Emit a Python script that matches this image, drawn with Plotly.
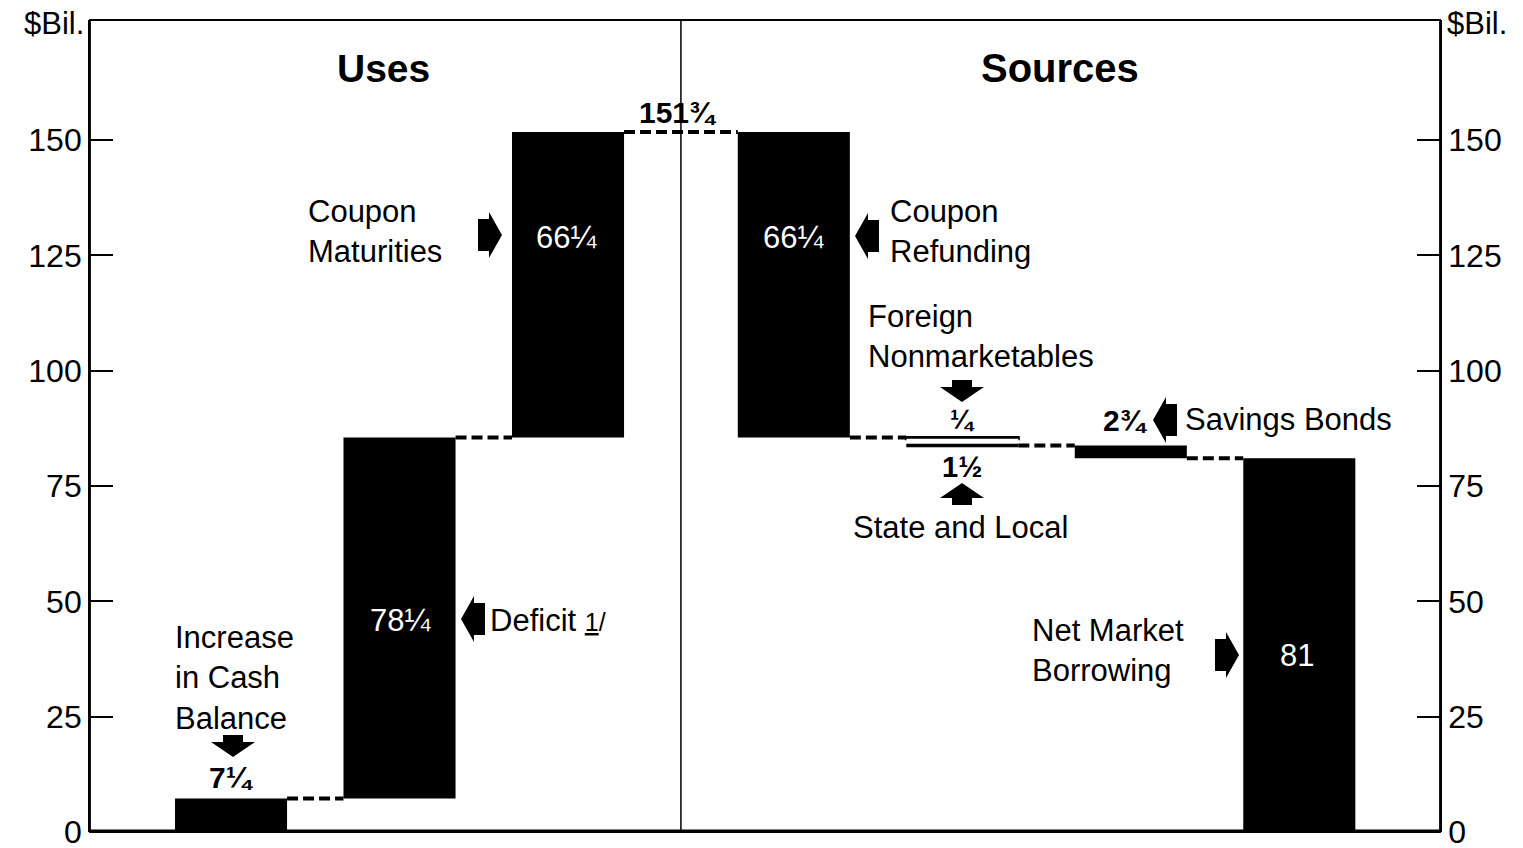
import plotly.graph_objects as go

# ---------------- data ----------------
uses_labels = ["Increase in Cash Balance", "Deficit 1/", "Coupon Maturities"]
uses_values = [7.25, 78.25, 66.25]
uses_value_text = ["7¼", "78¼", "66¼"]

sources_labels = ["Coupon Refunding", "Foreign Nonmarketables", "State and Local",
                  "Savings Bonds", "Net Market Borrowing"]
sources_values = [66.25, 0.25, 1.5, 2.75, 81]
sources_value_text = ["66¼", "¼", "1½", "2¾", "81"]
sources_slots = [0, 1, 1, 2, 3]

total_text = "151¾"
y_ticks = [0, 25, 50, 75, 100, 125, 150]
panel_titles = ["Uses", "Sources"]
unit_label = "$Bil."

# ---------------- layout constants ----------------
PAGE_OFF = 8            # default body margin of the html page
W, H = 1515, 840
ML, MR, MT, MB = 82, 83, 12, 16
Y_MAX = 176.0
X_RANGE = [-0.837, 7.175]
SRC_OFFSET = 3.34
BAR_W = 0.665
FONT = "Liberation Sans, Arial, Helvetica, sans-serif"


def px2x(px):
    # px given in screen pixels
    return X_RANGE[0] + (px - PAGE_OFF - ML) / (W - ML - MR) * (X_RANGE[1] - X_RANGE[0])


def py2y(py):
    return (H - MB - (py - PAGE_OFF)) / (H - MT - MB) * Y_MAX


# cumulative positions
uses_x = list(range(len(uses_values)))
uses_base = []
acc = 0.0
for v in uses_values:
    uses_base.append(acc)
    acc += v
total = acc

src_x = [SRC_OFFSET + s for s in sources_slots]
src_base = []
top = total
for v in sources_values:
    top -= v
    src_base.append(top)

fig = go.Figure()

# uses bars
fig.add_trace(go.Bar(x=uses_x, y=uses_values, base=uses_base, width=BAR_W,
                     marker=dict(color="black", line=dict(width=0)),
                     hovertext=uses_labels, showlegend=False))

# sources solid bars (all except the nonmarketable pair)
solid = [0, 3, 4]
fig.add_trace(go.Bar(x=[src_x[i] for i in solid], y=[sources_values[i] for i in solid],
                     base=[src_base[i] for i in solid], width=BAR_W,
                     marker=dict(color="black", line=dict(width=0)),
                     hovertext=[sources_labels[i] for i in solid], showlegend=False))
# foreign nonmarketables: thin bar
fig.add_trace(go.Bar(x=[src_x[1]], y=[sources_values[1]], base=[src_base[1]], width=BAR_W,
                     marker=dict(color="black", line=dict(color="black", width=3)),
                     hovertext=[sources_labels[1]], showlegend=False))
# state and local: open bar, drawn by its lower edge
fig.add_trace(go.Bar(x=[src_x[2]], y=[sources_values[2]], base=[src_base[2]], width=BAR_W,
                     marker=dict(color="white", line=dict(width=0)),
                     hovertext=[sources_labels[2]], showlegend=False))
fig.add_trace(go.Scatter(x=[src_x[2] - BAR_W / 2, src_x[2] + BAR_W / 2],
                         y=[src_base[2], src_base[2]], mode="lines",
                         line=dict(color="black", width=3.5), showlegend=False,
                         hoverinfo="skip"))

# connectors (dashed)
cx, cy = [], []
for i in range(len(uses_x) - 1):
    lvl = uses_base[i] + uses_values[i]
    cx += [uses_x[i] + BAR_W / 2, uses_x[i + 1] - BAR_W / 2, None]
    cy += [lvl, lvl, None]
cx += [uses_x[-1] + BAR_W / 2, src_x[0] - BAR_W / 2, None]
cy += [total, total, None]
for j in range(len(src_x) - 1):
    if sources_slots[j + 1] != sources_slots[j]:
        lvl = src_base[j]
        cx += [src_x[j] + BAR_W / 2, src_x[j + 1] - BAR_W / 2, None]
        cy += [lvl, lvl, None]
fig.add_trace(go.Scatter(x=cx, y=cy, mode="lines",
                         line=dict(color="black", width=4, dash="11px,5px"),
                         showlegend=False, hoverinfo="skip"))

# right axis dummy trace
fig.add_trace(go.Scatter(x=[None], y=[None], yaxis="y2", showlegend=False))

shapes = []
# divider
div_x = (uses_x[-1] + src_x[0]) / 2
shapes.append(dict(type="line", xref="x", yref="paper", x0=div_x, x1=div_x, y0=0, y1=1,
                   line=dict(color="black", width=1.5)))
# frame
shapes.append(dict(type="rect", xref="paper", yref="paper", x0=0, x1=1, y0=0, y1=1,
                   line=dict(color="black", width=1.8)))
# thick baseline
shapes.append(dict(type="line", xref="paper", yref="y", x0=0, x1=1, y0=0, y1=0,
                   line=dict(color="black", width=5)))

# block arrows
ARROW_PTS = {
    "right": [(-12, 16), (-1, 16), (-1, 23), (12, 0), (-1, -23), (-1, -16), (-12, -16)],
    "left": [(12, 16), (1, 16), (1, 23), (-12, 0), (1, -23), (1, -16), (12, -16)],
    "down": [(-10, 11), (10, 11), (10, 4), (22, 4), (0, -11), (-22, 4), (-10, 4)],
    "up": [(-10, -11), (10, -11), (10, -4), (22, -4), (0, 11), (-22, -4), (-10, -4)],
}
arrows = [
    ("right", 490, 235),
    ("left", 867, 236),
    ("left", 473, 619),
    ("left", 1165, 420),
    ("right", 1227, 655),
    ("down", 233, 746),
    ("down", 962, 391),
    ("up", 962, 494),
]
for d, ax_px, ay_px in arrows:
    pts = ARROW_PTS[d]
    path = "M " + " L ".join(f"{p[0]},{p[1]}" for p in pts) + " Z"
    shapes.append(dict(type="path", xref="x", yref="y", xsizemode="pixel", ysizemode="pixel",
                       xanchor=px2x(ax_px), yanchor=py2y(ay_px), path=path,
                       fillcolor="black", line=dict(width=0)))

annotations = []
LBL = 31


def txt(text, px, py, size=LBL, color="black", bold=False, xanchor="center", align="center"):
    t = f"<b>{text}</b>" if bold else text
    annotations.append(dict(text=t, x=px2x(px), y=py2y(py), xref="x", yref="y",
                            showarrow=False, xanchor=xanchor, yanchor="middle", align=align,
                            font=dict(family=FONT, size=size, color=color)))


# panel titles
txt(panel_titles[0], 383, 68, size=39, bold=True)
txt(panel_titles[1], 1060, 68, size=40, bold=True)

# descriptive labels
txt("Coupon<br>Maturities", 306, 231, xanchor="left", align="left")
txt("Coupon<br>Refunding", 888, 231, xanchor="left", align="left")
txt("Foreign<br>Nonmarketables", 866, 336, xanchor="left", align="left")
txt("Savings Bonds", 1183, 419, xanchor="left")
txt("State and Local", 960, 527)
txt("Deficit <span style='font-size:25px'><u>1</u>/</span>", 488, 620, xanchor="left")
txt("Increase<br>in Cash<br>Balance", 173, 678, xanchor="left", align="left")
txt("Net Market<br>Borrowing", 1030, 650, xanchor="left", align="left")

# values
txt(total_text, 678, 112, size=30, bold=True)
txt(uses_value_text[2], 566, 237, size=31, color="white")
txt(sources_value_text[0], 793, 237, size=31, color="white")
txt(uses_value_text[1], 400, 620, size=31, color="white")
txt(sources_value_text[4], 1297, 655, size=31, color="white")
txt(uses_value_text[0], 231, 777, size=30, bold=True)
txt(sources_value_text[1], 962, 420, size=27, bold=True)
txt(sources_value_text[2], 962, 467, size=29, bold=True)
txt(sources_value_text[3], 1125, 420, size=30, bold=True)

# unit labels
annotations.append(dict(text=unit_label, xref="paper", yref="paper", x=0, y=1, xshift=-4,
                        yshift=-3, xanchor="right", yanchor="middle", showarrow=False,
                        font=dict(family=FONT, size=31, color="black")))
annotations.append(dict(text=unit_label, xref="paper", yref="paper", x=1, y=1, xshift=5,
                        yshift=-3, xanchor="left", yanchor="middle", showarrow=False,
                        font=dict(family=FONT, size=31, color="black")))

yaxis_common = dict(range=[0, Y_MAX], tickvals=y_ticks, ticks="inside", ticklen=23,
                    tickwidth=1.8, tickcolor="black", showgrid=False, zeroline=False,
                    showline=True, linecolor="black", linewidth=1.8,
                    ticklabeloverflow="allow", automargin=False,
                    tickfont=dict(family=FONT, size=32, color="black"), fixedrange=True)

fig.update_layout(
    width=W, height=H,
    margin=dict(l=ML, r=MR, t=MT, b=MB, pad=0, autoexpand=False),
    paper_bgcolor="white", plot_bgcolor="white",
    barmode="overlay",
    xaxis=dict(range=X_RANGE, showticklabels=False, ticks="", showgrid=False,
               zeroline=False, showline=False, fixedrange=True, automargin=False),
    yaxis=dict(side="left", **yaxis_common),
    yaxis2=dict(side="right", overlaying="y", **yaxis_common),
    shapes=shapes,
    annotations=annotations,
    font=dict(family=FONT),
)

fig.write_html("out.html")
